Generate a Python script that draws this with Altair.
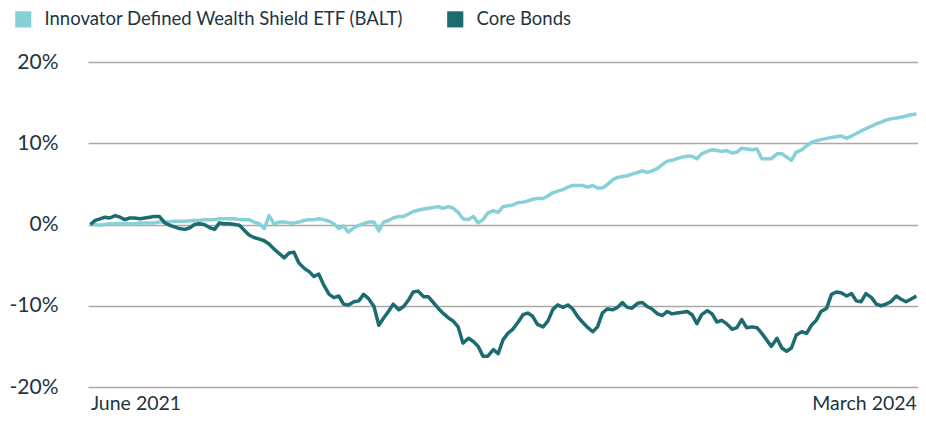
import altair as alt
import pandas as pd

series_names = ["Innovator Defined Wealth Shield ETF (BALT)", "Core Bonds"]
series_colors = ["#86d0d8", "#1c6b70"]

start_date = "2021-06-01"
end_date = "2024-03-28"

balt = [
    0.0, 0.0, -0.1, 0.0, 0.1, 0.1, 0.1, 0.1, 0.1, 0.1,
    0.2, 0.2, 0.2, 0.2, 0.3, 0.3, 0.3, 0.4, 0.4, 0.4,
    0.45, 0.5, 0.5, 0.6, 0.6, 0.6, 0.7, 0.7, 0.7, 0.7,
    0.6, 0.6, 0.6, 0.3, 0.1, -0.5, 1.1, 0.1, 0.3, 0.3,
    0.2, 0.2, 0.3, 0.5, 0.6, 0.6, 0.7, 0.6, 0.4, 0.1,
    -0.5, -0.2, -0.95, -0.4, -0.1, 0.1, 0.3, 0.3, -0.8, 0.3,
    0.5, 0.8, 1.0, 1.0, 1.3, 1.6, 1.75, 1.9, 2.0, 2.1,
    2.2, 2.0, 2.2, 2.0, 1.5, 0.7, 0.6, 1.0, 0.2, 0.6,
    1.4, 1.7, 1.5, 2.2, 2.3, 2.4, 2.7, 2.75, 2.9, 3.1,
    3.2, 3.2, 3.5, 3.9, 4.1, 4.3, 4.6, 4.8, 4.8, 4.8,
    4.6, 4.8, 4.5, 4.5, 4.9, 5.5, 5.8, 5.9, 6.0, 6.2,
    6.4, 6.6, 6.4, 6.6, 6.9, 7.4, 7.8, 7.9, 8.1, 8.3,
    8.4, 8.4, 8.1, 8.7, 9.0, 9.2, 9.1, 9.0, 9.1, 8.8,
    8.9, 9.4, 9.3, 9.2, 9.3, 8.1, 8.1, 8.1, 8.7, 8.7,
    8.3, 7.9, 8.9, 9.2, 9.7, 10.1, 10.3, 10.45, 10.6, 10.7,
    10.8, 10.9, 10.6, 10.9, 11.2, 11.5, 11.8, 12.1, 12.4, 12.6,
    12.85, 13.0, 13.1, 13.2, 13.35, 13.5, 13.6,
]

core = [
    0.0, 0.5, 0.7, 0.9, 0.8, 1.1, 0.9, 0.6, 0.8, 0.8,
    0.7, 0.8, 0.9, 1.0, 1.0, 0.2, -0.1, -0.3, -0.5, -0.6,
    -0.4, 0.0, 0.1, 0.0, -0.4, -0.6, 0.2, 0.1, 0.1, 0.0,
    -0.1, -0.7, -1.3, -1.6, -1.8, -2.0, -2.4, -3.0, -3.6, -4.1,
    -3.5, -3.4, -4.7, -5.4, -5.8, -6.4, -6.1, -7.4, -8.6, -9.0,
    -8.8, -9.8, -9.9, -9.5, -9.4, -8.6, -9.1, -10.1, -12.4, -11.5,
    -10.7, -9.8, -10.5, -10.1, -9.3, -8.3, -8.2, -8.9, -8.9, -9.6,
    -10.3, -10.9, -11.5, -11.9, -12.6, -14.6, -14.0, -14.4, -15.0, -16.2,
    -16.2, -15.4, -15.9, -14.2, -13.4, -12.9, -12.0, -11.1, -10.9, -11.3,
    -12.3, -12.6, -11.9, -10.5, -9.9, -10.2, -9.9, -10.4, -11.3, -12.0,
    -12.7, -13.2, -12.6, -10.9, -10.4, -10.5, -10.2, -9.6, -10.2, -10.3,
    -9.7, -9.6, -10.1, -10.4, -11.0, -11.2, -10.7, -11.0, -10.9, -10.8,
    -10.7, -11.1, -12.2, -11.1, -10.6, -11.0, -12.0, -11.8, -12.2, -12.9,
    -12.7, -11.7, -12.7, -12.6, -12.7, -13.4, -14.2, -15.0, -14.0, -15.2,
    -15.6, -15.2, -13.6, -13.2, -13.4, -12.4, -11.8, -10.7, -10.3, -8.6,
    -8.3, -8.4, -8.8, -8.5, -9.4, -9.5, -8.5, -9.0, -9.8, -10.0,
    -9.8, -9.5, -8.8, -9.2, -9.5, -9.2, -8.8,
]

y_ticks = [-20, -10, 0, 10, 20]
x_labels = ["June 2021", "March 2024"]

dates = pd.date_range(start_date, end_date, periods=len(core)).strftime("%Y-%m-%d")

rows = []
for name, vals in zip(series_names, [balt, core]):
    for d, v in zip(dates, vals):
        rows.append({"date": d, "value": v, "series": name})
df = pd.DataFrame(rows)

FONT = "Lato"
TXT = "#1e3540"

chart = (
    alt.Chart(df)
    .mark_line(strokeWidth=3.5, strokeJoin="round")
    .encode(
        x=alt.X(
            "date:T",
            scale=alt.Scale(domain=["2021-05-29", "2024-03-30"]),
            axis=alt.Axis(
                values=[start_date, end_date],
                labelExpr=f"datum.index == 0 ? '{x_labels[0]}' : '{x_labels[1]}'",
                grid=False,
                domain=False,
                ticks=False,
                labelFlush=12,
                labelFlushOffset=0,
                labelPadding=7,
                labelFontSize=19.5,
                labelFont=FONT,
                labelColor=TXT,
                title=None,
            ),
        ),
        y=alt.Y(
            "value:Q",
            scale=alt.Scale(domain=[-20, 20], nice=False),
            axis=alt.Axis(
                values=y_ticks,
                labelExpr="datum.value + '%'",
                grid=True,
                gridColor="#a9a9a9",
                gridWidth=1.3,
                domain=False,
                ticks=False,
                labelPadding=30,
                labelFontSize=21,
                labelFont=FONT,
                labelColor=TXT,
                title=None,
            ),
        ),
        color=alt.Color(
            "series:N",
            scale=alt.Scale(domain=series_names, range=series_colors),
            legend=alt.Legend(
                title=None,
                orient="none",
                direction="horizontal",
                legendX=-74,
                legendY=-52,
                symbolType="square",
                symbolSize=260,
                symbolStrokeWidth=0,
                symbolOpacity=1,
                symbolFillColor=alt.expr("scale('color', datum.value)"),
                labelFont=FONT,
                labelFontSize=18.5,
                labelColor=TXT,
                labelLimit=600,
                labelOffset=12,
                columnPadding=42,
            ),
        ),
    )
    .properties(
        width=830,
        height=325,
        autosize=alt.AutoSizeParams(type="none"),
        padding={"left": 80, "top": 54, "right": 0, "bottom": 32},
    )
    .configure_view(stroke=None)
)

chart.save("out.html", embed_options={"renderer": "svg", "actions": False})
